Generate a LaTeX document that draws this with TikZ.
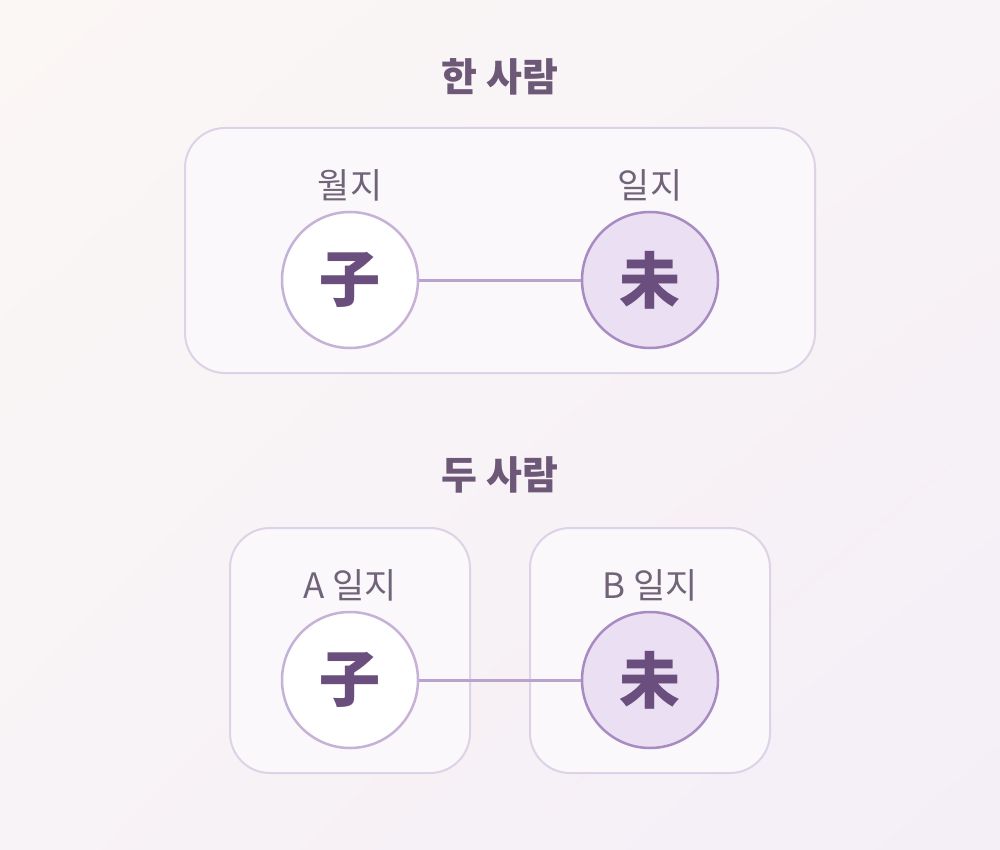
\documentclass[tikz,border=0pt]{standalone}
\usepackage{fontspec}
\newfontfamily\kr{Noto Sans CJK KR}
\usetikzlibrary{shapes,shadings}
\definecolor{bgA}{HTML}{FBF7F5}
\definecolor{bgM}{HTML}{F8F3F6}
\definecolor{bgB}{HTML}{F4EEF7}
\definecolor{boxline}{HTML}{DDD2E6}
\definecolor{boxfill}{HTML}{FBF8FC}
\definecolor{title}{HTML}{6E5878}
\definecolor{label}{HTML}{716478}
\definecolor{glyph}{HTML}{6A4F7E}
\definecolor{ringA}{HTML}{C6B2D6}
\definecolor{ringB}{HTML}{A98AC1}
\definecolor{fillB}{HTML}{EBDFF3}
\definecolor{link}{HTML}{B9A2CD}
\newcommand{\GAN}[1]{{\fontsize{61}{61}\selectfont\bfseries #1}}

\begin{document}
\begin{tikzpicture}[x=1pt, y=-1pt,
  frame/.style={draw=boxline, line width=2pt, fill=boxfill, rounded corners=40pt},
  head/.style={font=\kr\bfseries\fontsize{39}{39}\selectfont, text=title},
  tag/.style={font=\kr\fontsize{35}{35}\selectfont, text=label},
  branch/.style={circle, minimum size=136pt, inner sep=0pt, line width=2.5pt, font=\kr, text=glyph},
  ringwhite/.style={branch, draw=ringA, fill=white},
  ringlilac/.style={branch, draw=ringB, fill=fillB},
  tie/.style={draw=link, line width=3pt}]

  \shade[upper left=bgA, lower right=bgB, upper right=bgM, lower left=bgM] (0,0) rectangle (1000,850);
  \useasboundingbox (0,0) rectangle (1000,850);

  %% one person
  \node[head] (one) at (500,77) {한 사람};
  \draw[frame] (185,128) rectangle (815,373);
  \node[tag] (month) at (350,185) {월지};
  \node[tag] (day) at (650,185) {일지};
  \node[ringwhite] (zi) at (350,280) {\GAN{子}};
  \node[ringlilac] (wei) at (650,280) {\GAN{未}};
  \draw[tie] (zi) -- (wei); %% zi->wei

  %% two people
  \node[head] (two) at (500,475) {두 사람};
  \draw[frame] (230,528) rectangle (470,773);
  \draw[frame] (530,528) rectangle (770,773);
  \node[tag] (dayA) at (350,585) {A 일지};
  \node[tag] (dayB) at (650,585) {B 일지};
  \node[ringwhite] (ziA) at (350,680) {\GAN{子}};
  \node[ringlilac] (weiB) at (650,680) {\GAN{未}};
  \draw[tie] (ziA) -- (weiB); %% A->B

\end{tikzpicture}
\end{document}
